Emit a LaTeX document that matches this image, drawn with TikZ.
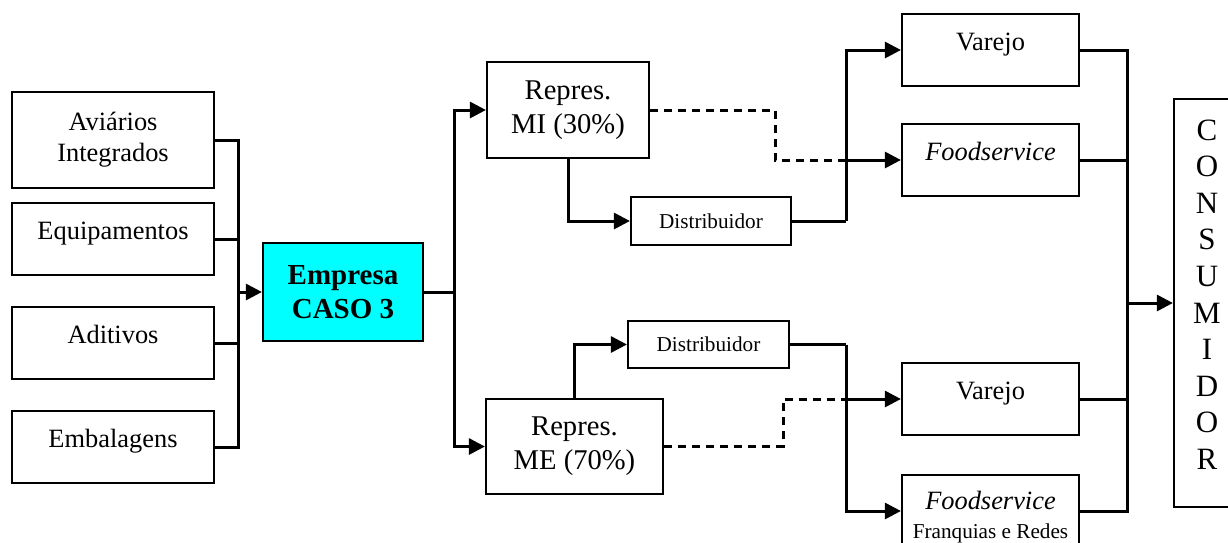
\documentclass[tikz,border=0pt]{standalone}
\usepackage{fontspec}
\setmainfont{Liberation Serif}
\usetikzlibrary{arrows.meta}
\begin{document}
\begin{tikzpicture}[x=0.5pt,y=-0.5pt,
  box/.style={draw=black,line width=1.1pt,inner sep=0pt,align=center,fill=white},
  midbase/.style={text height=4.5pt,text depth=4.5pt},
  big/.style={font=\fontsize{13.2}{15.5}\selectfont},
  rep/.style={font=\fontsize{14.3}{17}\selectfont},
  small/.style={font=\fontsize{10.6}{12.5}\selectfont},
  conn/.style={line width=1.5pt},
  arr/.style={conn,-{Triangle[length=8pt,width=8pt]}},
  dsh/.style={conn,dash pattern=on 4pt off 3pt}]
\useasboundingbox (0,0) rectangle (1228,542);
\clip (0,0) rectangle (1228,542);

% input boxes
\node[box,big,minimum width=101pt,minimum height=48pt] (av) at (113,140) {Aviários\\Integrados};
\node[box,big,midbase,minimum width=101pt,minimum height=36pt] (eq) at (113,239) {Equipamentos};
\node[box,big,midbase,minimum width=101pt,minimum height=36pt] (ad) at (113,343) {Aditivos};
\node[box,big,midbase,minimum width=101pt,minimum height=36pt] (em) at (113,447) {Embalagens};

% company
\node[box,fill={rgb,255:red,0;green,255;blue,255},minimum width=80pt,minimum height=49pt,
  font=\fontsize{14.5}{17}\selectfont\bfseries] (emp) at (343,292) {Empresa\\CASO 3};

% representatives
\node[box,rep,minimum width=81pt,minimum height=48pt] (mi) at (568,110) {Repres.\\MI (30\%)};
\node[box,rep,minimum width=88.5pt,minimum height=47.5pt] (me) at (574.5,446.5) {Repres.\\ME (70\%)};

% distributors
\node[box,small,minimum width=80pt,minimum height=24pt] (d1) at (711,221) {Distribuidor};
\node[box,small,minimum width=80.5pt,minimum height=23.5pt] (d2) at (708.5,344.5) {Distribuidor};

% channels
\node[box,big,midbase,minimum width=88.5pt,minimum height=36pt] (v1) at (990.5,50) {Varejo};
\node[box,big,midbase,minimum width=88.5pt,minimum height=36pt] (f1) at (990.5,160) {\itshape Foodservice};
\node[box,big,midbase,minimum width=88.5pt,minimum height=36pt] (v2) at (990.5,399) {Varejo};
\node[box,big,minimum width=88.5pt,minimum height=42.5pt] (f2) at (990.5,517.5)
  {\itshape Foodservice\\[-1pt]{\fontsize{10.6}{12.5}\selectfont Franquias e Redes}};

% consumer
\node[box,minimum width=33pt,minimum height=204pt] (cons) at (1207,303) {};
\node[inner sep=0pt,align=center,font=\fontsize{15.5}{18.3}\selectfont] (constext) at (1207,294.5)
  {C\\O\\N\\S\\U\\M\\I\\D\\O\\R};

% bus coordinates
\coordinate (bL) at (238,292);
\coordinate (bM) at (454,292);
\coordinate (bD1) at (846,221);
\coordinate (bD2) at (846,344.5);
\coordinate (bR) at (1127,303);
\coordinate (dm1) at (775,160);
\coordinate (jF1) at (846,160);
\coordinate (dm2) at (783,399);
\coordinate (jV2) at (846,399);

% inputs to company
\draw[conn] (av.east) -| (bL);
\draw[conn] (eq.east) -| (bL);
\draw[conn] (ad.east) -| (bL);
\draw[conn] (em.east) -| (bL);
\draw[arr] (bL) -- (emp.west);

% company to representatives
\draw[conn] (emp.east) -- (bM);
\draw[arr] (bM) |- (mi.west);
\draw[arr] (bM) |- (me.west);

% dashed direct routes
\draw[dsh] (mi.east) -| (dm1) -- (jF1);
\draw[dsh] (me.east) -| (dm2) -- (jV2);

% representatives to distributors
\draw[arr] (mi.south) |- (d1.west);
\draw[arr] (me.north) |- (d2.west);

% distributors to channels
\draw[conn] (d1.east) -- (bD1);
\draw[arr] (bD1) |- (v1.west);
\draw[arr] (bD1) |- (f1.west);
\draw[conn] (d2.east) -- (bD2);
\draw[arr] (bD2) |- (v2.west);
\draw[arr] (bD2) |- ([yshift=3.25pt]f2.west);

% channels to consumer
\draw[conn] (v1.east) -| (bR);
\draw[conn] (f1.east) -| (bR);
\draw[conn] (v2.east) -| (bR);
\draw[conn] ([yshift=3.25pt]f2.east) -| (bR);
\draw[arr] (bR) -- (cons.west);
\end{tikzpicture}
\end{document}
